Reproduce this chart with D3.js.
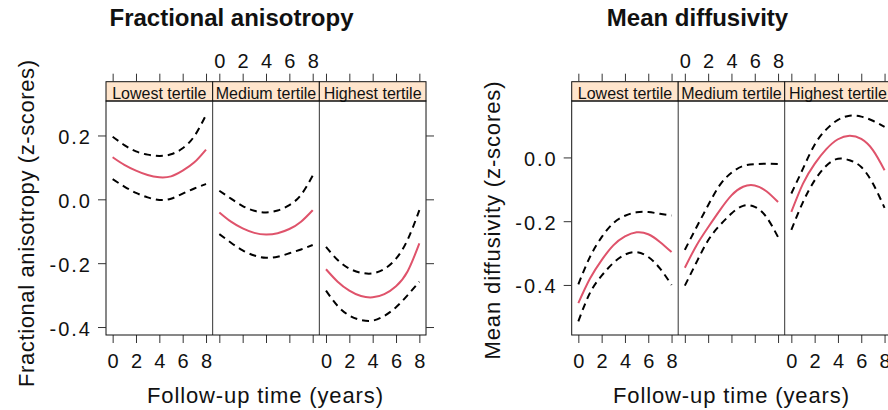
<!DOCTYPE html>
<html>
<head>
<meta charset="utf-8">
<script src="https://cdn.jsdelivr.net/npm/d3@7"></script>
<style>
  html, body { margin: 0; padding: 0; background: #fff; }
  svg { display: block; font-family: "Liberation Sans", Arial, sans-serif; }
</style>
</head>
<body>
<svg id="fig" width="888" height="410"></svg>
<script>
// Follow-up years at which the fitted trajectories are evaluated
const years = [0, 1, 2, 3, 4, 5, 6, 7, 8];
const tertiles = ["Lowest tertile", "Medium tertile", "Highest tertile"];
const yearTicks = [0, 2, 4, 6, 8];
const yearLimits = [-0.57, 8.57];

// Fractional anisotropy (z-scores): fit, upper and lower confidence bands per tertile
const faTicks = [0.2, 0.0, -0.2, -0.4];
const faLimits = [-0.425, 0.308];
const faFit = [
  [0.132, 0.108, 0.090, 0.076, 0.069, 0.072, 0.090, 0.116, 0.156],
  [-0.041, -0.070, -0.091, -0.105, -0.110, -0.106, -0.093, -0.070, -0.034],
  [-0.219, -0.258, -0.286, -0.303, -0.307, -0.297, -0.272, -0.225, -0.138]
];
const faUpper = [
  [0.196, 0.170, 0.150, 0.140, 0.136, 0.141, 0.160, 0.198, 0.264],
  [0.027, 0.002, -0.021, -0.036, -0.041, -0.035, -0.018, 0.014, 0.074],
  [-0.149, -0.190, -0.217, -0.230, -0.232, -0.218, -0.186, -0.126, -0.034]
];
const faLower = [
  [0.063, 0.040, 0.020, 0.006, -0.002, 0.002, 0.018, 0.034, 0.048],
  [-0.109, -0.136, -0.160, -0.176, -0.183, -0.180, -0.169, -0.157, -0.143],
  [-0.286, -0.334, -0.364, -0.378, -0.380, -0.365, -0.338, -0.300, -0.258]
];

// Mean diffusivity (z-scores)
const mdTicks = [0.0, -0.2, -0.4];
const mdLimits = [-0.557, 0.177];
const mdFit = [
  [-0.457, -0.380, -0.322, -0.276, -0.248, -0.235, -0.241, -0.265, -0.297],
  [-0.346, -0.276, -0.219, -0.166, -0.119, -0.092, -0.088, -0.106, -0.140],
  [-0.171, -0.082, -0.020, 0.026, 0.057, 0.068, 0.058, 0.023, -0.040]
];
const mdUpper = [
  [-0.398, -0.312, -0.250, -0.206, -0.183, -0.172, -0.171, -0.177, -0.182],
  [-0.290, -0.219, -0.150, -0.087, -0.048, -0.027, -0.021, -0.020, -0.021],
  [-0.113, -0.035, 0.040, 0.088, 0.118, 0.131, 0.128, 0.115, 0.096]
];
const mdLower = [
  [-0.514, -0.425, -0.371, -0.331, -0.305, -0.297, -0.312, -0.348, -0.400],
  [-0.402, -0.329, -0.260, -0.213, -0.176, -0.152, -0.155, -0.187, -0.250],
  [-0.227, -0.140, -0.072, -0.026, -0.004, -0.009, -0.030, -0.082, -0.158]
];

const svg = d3.select("#fig");
const fitColor = "#DF536B";
const stripFill = "#FFE5CC";
const stripTop = 81.7, plotTop = 101, plotBottom = 335;
const fmtY = v => d3.format(".1f")(v).replace("\u2212", "-");

function drawChart(cfg) {
  const g = svg.append("g");
  const pw = cfg.panelWidth;
  const frameL = cfg.left, frameR = cfg.left + 3 * pw;
  const y = d3.scaleLinear().domain(cfg.limits).range([plotBottom, plotTop]);

  tertiles.forEach((name, i) => {
    const x0 = frameL + i * pw;
    const x = d3.scaleLinear().domain(yearLimits).range([x0, x0 + pw]);
    const clipId = cfg.id + "-clip-" + i;

    g.append("clipPath").attr("id", clipId)
      .append("rect").attr("x", x0).attr("y", plotTop)
      .attr("width", pw).attr("height", plotBottom - plotTop);

    // strip with tertile name
    g.append("rect")
      .attr("x", x0).attr("y", stripTop)
      .attr("width", pw).attr("height", plotTop - stripTop)
      .attr("fill", stripFill).attr("stroke", "#111").attr("stroke-width", 1);
    g.append("text")
      .attr("x", x0 + pw / 2).attr("y", plotTop - 2)
      .attr("text-anchor", "middle")
      .attr("font-size", 16).attr("fill", "#111")
      .text(name);

    // fitted curve and confidence limits
    const line = d3.line()
      .x((d, k) => x(years[k]))
      .y(d => y(d))
      .curve(d3.curveNatural);
    const lines = g.append("g").attr("clip-path", `url(#${clipId})`);
    [cfg.upper[i], cfg.lower[i]].forEach(s => {
      lines.append("path").attr("d", line(s))
        .attr("fill", "none").attr("stroke", "#000")
        .attr("stroke-width", 2).attr("stroke-dasharray", "7,5");
    });
    lines.append("path").attr("d", line(cfg.fit[i]))
      .attr("fill", "none").attr("stroke", fitColor).attr("stroke-width", 2);

    // year axes: top labels on the middle panel, bottom labels on the outer panels
    const top = g.append("g").attr("transform", `translate(0,${stripTop})`)
      .call(d3.axisTop(x).tickValues(yearTicks).tickSize(8).tickPadding(6)
        .tickFormat(i === 1 ? d3.format("d") : () => ""));
    const bottom = g.append("g").attr("transform", `translate(0,${plotBottom})`)
      .call(d3.axisBottom(x).tickValues(yearTicks).tickSize(8).tickPadding(11)
        .tickFormat(i !== 1 ? d3.format("d") : () => ""));
    [top, bottom].forEach(a => {
      a.select(".domain").remove();
      a.selectAll(".tick line").attr("stroke", "#333");
      a.selectAll(".tick text").attr("font-size", 20).attr("font-family", null).attr("fill", "#111");
    });

    // panel divider
    if (i > 0) {
      g.append("line").attr("x1", x0).attr("x2", x0)
        .attr("y1", plotTop).attr("y2", plotBottom)
        .attr("stroke", "#333").attr("stroke-width", 1);
    }
  });

  // panel frame
  g.append("rect")
    .attr("x", frameL).attr("y", plotTop)
    .attr("width", frameR - frameL).attr("height", plotBottom - plotTop)
    .attr("fill", "none").attr("stroke", "#111").attr("stroke-width", 1);

  // y axes: labelled on the left, ticks only on the right
  const ya = g.append("g").attr("transform", `translate(${frameL},0)`)
    .call(d3.axisLeft(y).tickValues(cfg.ticks).tickSize(8).tickPadding(6).tickFormat(fmtY));
  const yb = g.append("g").attr("transform", `translate(${frameR},0)`)
    .call(d3.axisRight(y).tickValues(cfg.ticks).tickSize(8).tickFormat(() => ""));
  [ya, yb].forEach(a => {
    a.select(".domain").remove();
    a.selectAll(".tick line").attr("stroke", "#333");
    a.selectAll(".tick text").attr("font-size", 20).attr("font-family", null)
      .attr("fill", "#111").attr("dy", "0.4em").attr("letter-spacing", 2);
  });

  // titles
  g.append("text")
    .attr("x", cfg.titleX).attr("y", 26)
    .attr("text-anchor", "middle")
    .attr("font-size", 24).attr("font-weight", "bold").attr("fill", "#111")
    .text(cfg.title);
  g.append("text")
    .attr("x", cfg.xlabX).attr("y", 403)
    .attr("text-anchor", "middle")
    .attr("font-size", 22).attr("fill", "#111")
    .attr("textLength", 236).attr("lengthAdjust", "spacing")
    .text("Follow-up time (years)");
  g.append("text")
    .attr("transform", `translate(${cfg.ylabX},${cfg.ylabY}) rotate(-90)`)
    .attr("text-anchor", "middle")
    .attr("font-size", 22).attr("fill", "#111")
    .attr("textLength", cfg.ylabLen).attr("lengthAdjust", "spacing")
    .text(cfg.ylab);
}

drawChart({
  id: "fa", left: 106, panelWidth: 106.67,
  limits: faLimits, ticks: faTicks,
  fit: faFit, upper: faUpper, lower: faLower,
  title: "Fractional anisotropy", titleX: 231.5,
  xlabX: 265, ylab: "Fractional anisotropy (z-scores)",
  ylabX: 34, ylabY: 223.5, ylabLen: 327
});

drawChart({
  id: "md", left: 571.7, panelWidth: 106.5,
  limits: mdLimits, ticks: mdTicks,
  fit: mdFit, upper: mdUpper, lower: mdLower,
  title: "Mean diffusivity", titleX: 697.5,
  xlabX: 731, ylab: "Mean diffusivity (z-scores)",
  ylabX: 500, ylabY: 220.5, ylabLen: 278
});
</script>
</body>
</html>
